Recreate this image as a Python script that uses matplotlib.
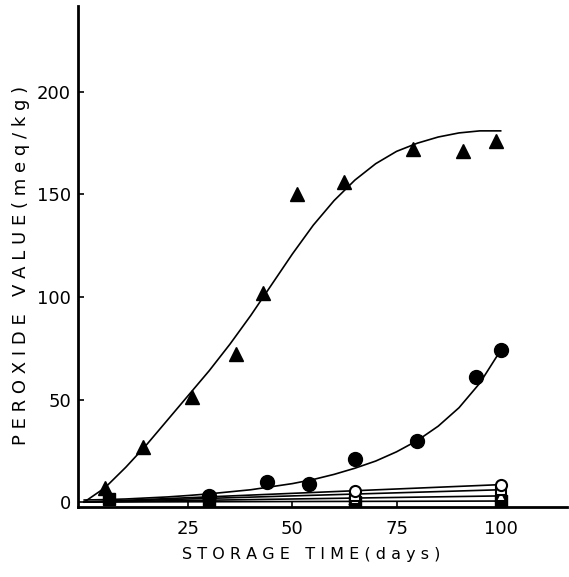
import matplotlib.pyplot as plt
import numpy as np

# --- Data ---
# measured points
tri_days = [5, 14, 26, 36.5, 43, 51, 62.5, 79, 91, 99]
tri_vals = [7, 27, 51, 72, 102, 150, 156, 172, 171, 176]

circ_days = [30, 44, 54, 65, 80, 94, 100]
circ_vals = [3, 10, 9, 21, 30, 61, 74]

low_days = [6, 30, 65, 100]
open_circ_vals = [1.5, 3, 5.5, 8.5]
open_sq_vals = [1, 2, 3, 6]
open_tri_vals = [0.5, 1, 1.5, 3]
filled_sq_vals = [1.5, 0, 0, 0.5]

# fitted curves, read every 5 days
curve_days = [0, 5, 10, 15, 20, 25, 30, 35, 40, 45, 50, 55, 60, 65, 70, 75, 80, 85, 90, 95, 100]
tri_curve = [0, 7, 17, 28, 40, 52, 64, 77, 91, 106, 121, 135, 147, 157, 165, 171, 175, 178, 180, 181, 181]
circ_curve = [1, 1.2, 1.5, 2, 2.5, 3.2, 4, 5, 6, 7.5, 9, 11, 13.5, 16.5, 20, 24.5, 30, 37, 46, 58, 74]

# low straight lines (start, end)
low_line_days = [0, 100]
open_circ_line = [0, 8.5]
open_sq_line = [0, 6]
open_tri_line = [0, 3]
filled_sq_line = [0, 0.5]

X_TICKS = [25, 50, 75, 100]
Y_TICKS = [0, 50, 100, 150, 200]

fig = plt.figure(figsize=(5.69, 5.77), dpi=100)
ax = fig.add_axes([0.137, 0.121, 0.86, 0.869])

lw = 1.2
ax.plot(curve_days, tri_curve, color='black', lw=lw)
ax.plot(curve_days, circ_curve, color='black', lw=lw)
for line in (open_circ_line, open_sq_line, open_tri_line, filled_sq_line):
    ax.plot(low_line_days, line, color='black', lw=lw)

ax.plot(tri_days, tri_vals, '^', color='black', ms=10, ls='none')
ax.plot(circ_days, circ_vals, 'o', color='black', ms=10, ls='none')
ax.plot(low_days, filled_sq_vals, 's', color='black', ms=8, ls='none')
ax.plot(low_days[2:], open_tri_vals[2:], '^', mfc='white', mec='black', mew=1.5, ms=7, ls='none')
ax.plot(low_days[2:], open_sq_vals[2:], 's', mfc='white', mec='black', mew=1.5, ms=7, ls='none')
ax.plot(low_days[2:], open_circ_vals[2:], 'o', mfc='white', mec='black', mew=1.5, ms=8, ls='none')

ax.set_xlim(-1.5, 116)
ax.set_ylim(-2.5, 242)
ax.set_xticks(X_TICKS)
ax.set_yticks(Y_TICKS)
ax.tick_params(direction='in', length=4, width=1.2, labelsize=13)
ax.tick_params(axis='y', pad=5)
ax.tick_params(axis='x', pad=9)

for side in ('top', 'right'):
    ax.spines[side].set_visible(False)
for side in ('left', 'bottom'):
    ax.spines[side].set_linewidth(2)

ax.set_xlabel('S T O R A G E   T I M E ( d a y s )', fontsize=11.5)
ax.set_ylabel('P E R O X I D E   V A L U E ( m e q / k g )', fontsize=13)
ax.xaxis.set_label_coords(0.476, -0.08)
ax.yaxis.set_label_coords(-0.098, 0.483)

fig.savefig('out.png', dpi=100)
